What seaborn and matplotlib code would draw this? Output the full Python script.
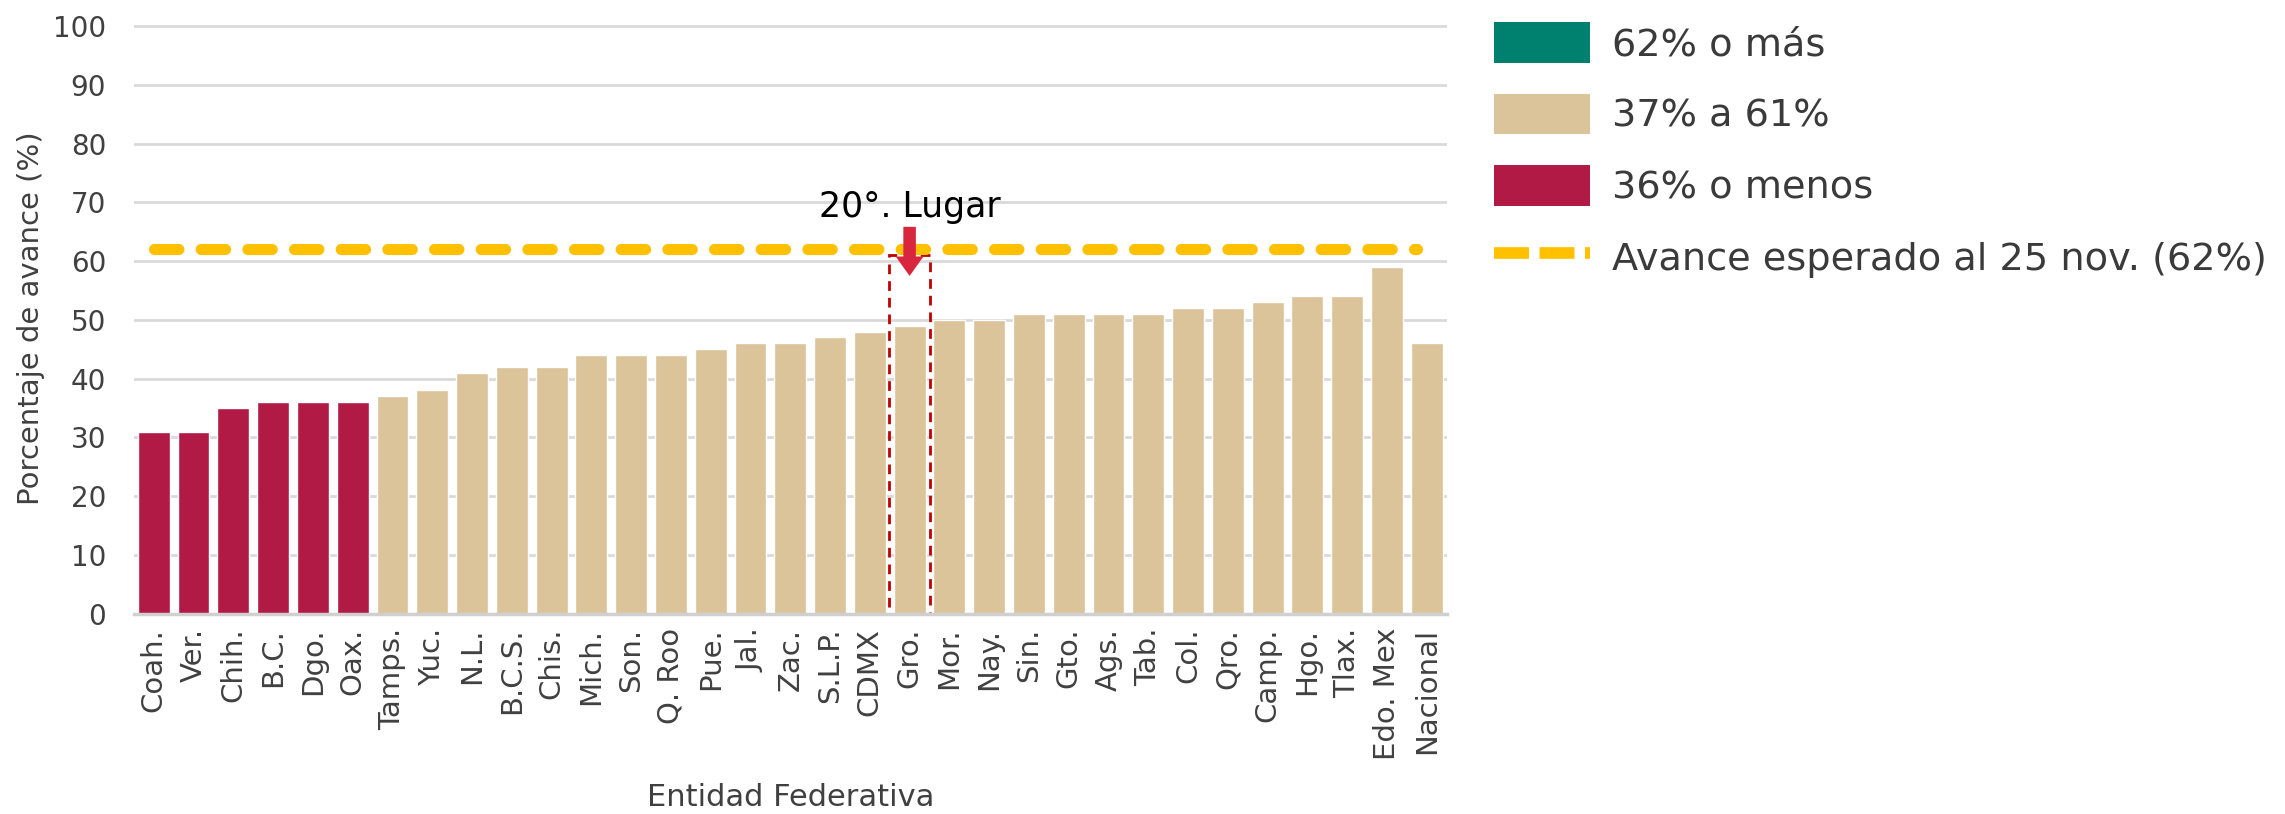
import numpy as np
import pandas as pd
import seaborn as sns
import matplotlib
matplotlib.use("Agg")
import matplotlib.pyplot as plt
from matplotlib.patches import Patch, Rectangle
from matplotlib.lines import Line2D

# datos
entidades = ["Coah.", "Ver.", "Chih.", "B.C.", "Dgo.", "Oax.", "Tamps.", "Yuc.", "N.L.",
             "B.C.S.", "Chis.", "Mich.", "Son.", "Q. Roo", "Pue.", "Jal.", "Zac.", "S.L.P.",
             "CDMX", "Gro.", "Mor.", "Nay.", "Sin.", "Gto.", "Ags.", "Tab.", "Col.", "Qro.",
             "Camp.", "Hgo.", "Tlax.", "Edo. Mex", "Nacional"]
avance = [31, 31, 35, 36, 36, 36, 37, 38, 41, 42, 42, 44, 44, 44, 45, 46, 46, 47,
          48, 49, 50, 50, 51, 51, 51, 51, 52, 52, 53, 54, 54, 59, 46]
grupos = ["62% o más", "37% a 61%", "36% o menos"]
colores = ["#00806E", "#DBC39A", "#B01A45"]
meta = 62
etiqueta_meta = "Avance esperado al 25 nov. (62%)"
lugar_idx = 19
lugar_txt = "20°. Lugar"


def grupo(v):
    if v >= 62:
        return grupos[0]
    if v >= 37:
        return grupos[1]
    return grupos[2]


df = pd.DataFrame({"Entidad": entidades, "Avance": avance})
df["Grupo"] = df["Avance"].apply(grupo)

sns.set_style("white")
plt.rcParams["font.family"] = ["DejaVu Sans"]
gris = "#404040"

fig = plt.figure(figsize=(22.85, 8.14), dpi=100)
ax = fig.add_axes([0.0586, 0.246, 0.5745, 0.725])

ax.set_axisbelow(True)
ax.yaxis.grid(True, color="#D9D9D9", linewidth=2.0)
sns.barplot(data=df, x="Entidad", y="Avance", hue="Grupo", hue_order=grupos,
            palette=dict(zip(grupos, colores)), dodge=False, width=0.8,
            saturation=1, legend=False, ax=ax)

ax.set_ylim(0, 100.4)
ax.set_xlim(-0.5, len(entidades) - 0.5)
ax.set_yticks(range(0, 101, 10))
for s in ["top", "right", "left"]:
    ax.spines[s].set_visible(False)
ax.spines["bottom"].set_color("#D0D0D0")
ax.spines["bottom"].set_linewidth(2.5)

ax.tick_params(axis="y", length=0, pad=20, labelsize=20, labelcolor=gris)
ax.tick_params(axis="x", length=0, pad=10, labelsize=21, labelcolor=gris,
               labelrotation=90)
ax.set_ylabel("Porcentaje de avance (%)", fontsize=21, color=gris, labelpad=6)
ax.set_xlabel("Entidad Federativa", fontsize=22, color=gris, va="center")
ax.xaxis.set_label_coords(0.5, -0.312)

# linea de meta
ax.plot([0.0, 31.75], [meta, meta], color="#FFC000", linewidth=8,
        linestyle=(0, (2.2, 2.0)), dash_capstyle="round")

# marco y flecha del lugar
ax.add_patch(Rectangle((lugar_idx - 0.52, 0), 1.04, 61, fill=False,
                       edgecolor="#C00000", linewidth=2, linestyle=(0, (3.5, 2.5)),
                       clip_on=False))
ax.annotate("", xy=(lugar_idx, 57.0), xytext=(lugar_idx, 66.3),
            arrowprops=dict(arrowstyle="simple,head_length=0.7,head_width=1.0,tail_width=0.45",
                            mutation_scale=20, color="#D7263D", linewidth=0))
ax.text(lugar_idx, 67.5, lugar_txt, ha="center", va="baseline", fontsize=25,
        color="black")

handles = [Patch(facecolor=c, edgecolor="none") for c in colores]
handles.append(Line2D([0], [0], color="#FFC000", linewidth=8.4,
                      linestyle=(0, (3.0, 0.9)), dash_capstyle="butt"))
leg = fig.legend(handles, grupos + [etiqueta_meta], loc="upper left",
                 bbox_to_anchor=(0.639, 1.015), frameon=False, fontsize=27.5,
                 handlelength=2.5, handleheight=1.25, handletextpad=0.57,
                 labelspacing=0.8, labelcolor="#3A3A3A")

fig.savefig("out.png", dpi=100)
